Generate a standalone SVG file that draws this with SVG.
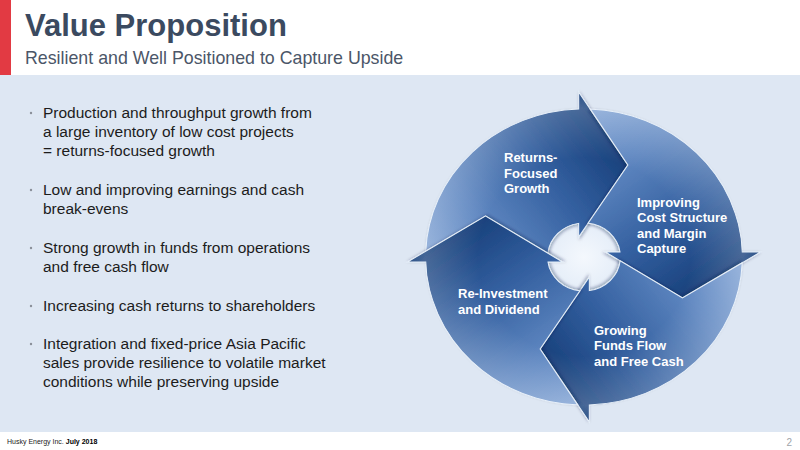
<svg xmlns="http://www.w3.org/2000/svg" xmlns:xlink="http://www.w3.org/1999/xlink" width="800" height="450" viewBox="0 0 800 450">
<defs>
<style>
.title{font-family:"Liberation Sans",Arial,sans-serif;font-weight:bold;font-size:31px;fill:#3b4a60}
.sub{font-family:"Liberation Sans",Arial,sans-serif;font-size:17.8px;fill:#4b5668}
.bt{font-family:"Liberation Sans",Arial,sans-serif;font-size:15.5px;fill:#1c1c1c}
.dot{fill:#8a8f99}
.lbl{font-family:"Liberation Sans",Arial,sans-serif;font-weight:bold;font-size:13px;fill:#ffffff}
.foot{font-family:"Liberation Sans",Arial,sans-serif;font-size:7px;fill:#222}
.piece{stroke:#e6eff9;stroke-width:1}
</style>
<linearGradient id="ag" gradientUnits="userSpaceOnUse" x1="-150" y1="25" x2="35" y2="-105">
<stop offset="0" stop-color="#8aabda"/>
<stop offset="0.35" stop-color="#5f87c1"/>
<stop offset="0.7" stop-color="#335f9f"/>
<stop offset="1" stop-color="#18407b"/>
</linearGradient>
<radialGradient id="rim" gradientUnits="userSpaceOnUse" cx="0" cy="0" r="165">
<stop offset="0" stop-color="#ffffff" stop-opacity="0"/>
<stop offset="0.6" stop-color="#ffffff" stop-opacity="0"/>
<stop offset="0.9" stop-color="#ffffff" stop-opacity="0.2"/>
<stop offset="1" stop-color="#ffffff" stop-opacity="0.1"/>
</radialGradient>
<radialGradient id="hole" cx="0.5" cy="0.5" r="0.5">
<stop offset="0" stop-color="#f4f8fd"/>
<stop offset="1" stop-color="#e4edf8"/>
</radialGradient>
<filter id="sh" x="-20%" y="-20%" width="140%" height="140%">
<feDropShadow dx="1" dy="1.5" stdDeviation="1.5" flood-color="#0a2040" flood-opacity="0.35"/>
</filter>
<path id="pc" d="M -147.9 -5.8 A 148 148 0 0 1 -5 -147.92 L -5 -165 L 41 -92 L -5 -20 L -5 -33.63 A 34 34 0 0 0 -33.8 -3.8 L -92 -41 Z"/>
</defs>

<rect x="0" y="0" width="800" height="450" fill="#ffffff"/>
<rect x="0" y="75" width="800" height="357" fill="#dee7f3"/>
<rect x="0" y="0" width="11" height="75" fill="#e23a43"/>

<g id="header">
<text class="title" x="25" y="36">Value Proposition</text>
<text class="sub" x="25" y="64">Resilient and Well Positioned to Capture Upside</text>
</g>

<g id="bullets">
<circle class="dot" cx="31" cy="113" r="1.2"/>
<text class="bt" x="43" y="118">Production and throughput growth from</text>
<text class="bt" x="43" y="137">a large inventory of low cost projects</text>
<text class="bt" x="43" y="156">= returns-focused growth</text>
<circle class="dot" cx="31" cy="190" r="1.2"/>
<text class="bt" x="43" y="195">Low and improving earnings and cash</text>
<text class="bt" x="43" y="214">break-evens</text>
<circle class="dot" cx="31" cy="248" r="1.2"/>
<text class="bt" x="43" y="253">Strong growth in funds from operations</text>
<text class="bt" x="43" y="272">and free cash flow</text>
<circle class="dot" cx="31" cy="306" r="1.2"/>
<text class="bt" x="43" y="311">Increasing cash returns to shareholders</text>
<circle class="dot" cx="31" cy="344" r="1.2"/>
<text class="bt" x="43" y="349">Integration and fixed-price Asia Pacific</text>
<text class="bt" x="43" y="368">sales provide resilience to volatile market</text>
<text class="bt" x="43" y="387">conditions while preserving upside</text>
</g>

<g id="cycle">
<circle cx="0" cy="0" r="35" fill="url(#hole)" transform="translate(584,257) scale(1.07,1)"/>
<g id="returns-focused-growth">
<g transform="translate(584,257) scale(1.07,1) rotate(0)">
<use xlink:href="#pc" class="piece" fill="url(#ag)" filter="url(#sh)"/>
<use xlink:href="#pc" fill="url(#rim)"/>
</g>
<text class="lbl" x="504" y="162">Returns-</text>
<text class="lbl" x="504" y="178">Focused</text>
<text class="lbl" x="504" y="193">Growth</text>
</g>
<g id="improving-cost-structure">
<g transform="translate(584,257) scale(1.07,1) rotate(90)">
<use xlink:href="#pc" class="piece" fill="url(#ag)" filter="url(#sh)"/>
<use xlink:href="#pc" fill="url(#rim)"/>
</g>
<text class="lbl" x="637" y="207">Improving</text>
<text class="lbl" x="637" y="222">Cost Structure</text>
<text class="lbl" x="637" y="238">and Margin</text>
<text class="lbl" x="637" y="253">Capture</text>
</g>
<g id="growing-funds-flow">
<g transform="translate(584,257) scale(1.07,1) rotate(180)">
<use xlink:href="#pc" class="piece" fill="url(#ag)" filter="url(#sh)"/>
<use xlink:href="#pc" fill="url(#rim)"/>
</g>
<text class="lbl" x="594" y="335">Growing</text>
<text class="lbl" x="594" y="350">Funds Flow</text>
<text class="lbl" x="594" y="366">and Free Cash</text>
</g>
<g id="reinvestment-dividend">
<g transform="translate(584,257) scale(1.07,1) rotate(270)">
<use xlink:href="#pc" class="piece" fill="url(#ag)" filter="url(#sh)"/>
<use xlink:href="#pc" fill="url(#rim)"/>
</g>
<text class="lbl" x="458" y="298">Re-Investment</text>
<text class="lbl" x="458" y="314">and Dividend</text>
</g>
</g>

<g id="footer">
<text class="foot" x="7" y="444">Husky Energy Inc. <tspan font-weight="bold" fill="#000">July 2018</tspan></text>
<text x="792" y="446" text-anchor="end" font-family="Liberation Sans, Arial, sans-serif" font-size="10" fill="#a0a4aa">2</text>
</g>
</svg>
